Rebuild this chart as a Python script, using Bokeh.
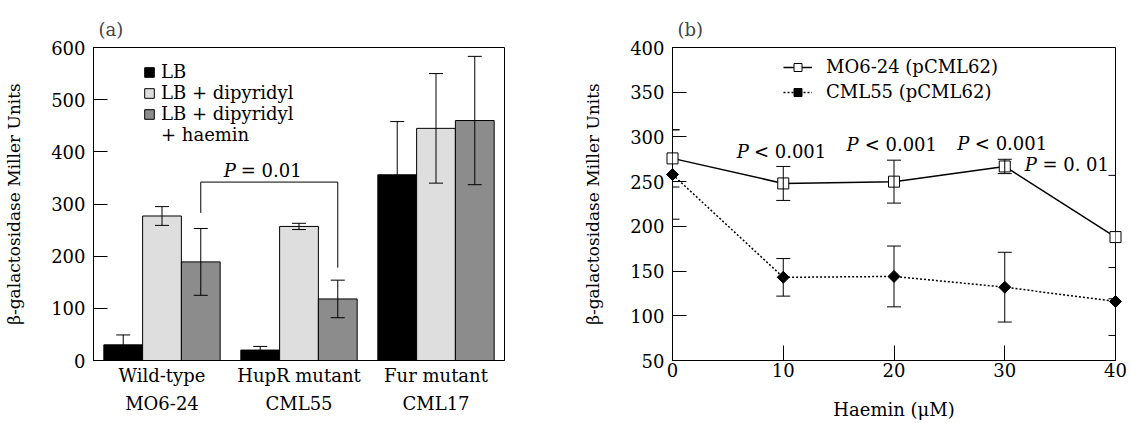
from bokeh.plotting import figure
from bokeh.models import (ColumnDataSource, FactorRange, Range1d, Whisker, TeeHead,
                          Legend, LegendItem, FixedTicker)
from bokeh.transform import dodge
from bokeh.layouts import row
from bokeh.embed import file_html
from bokeh.resources import INLINE
from bokeh.core.properties import value
import math

# ---------------- data ----------------
strain_names = ["Wild-type", "HupR mutant", "Fur mutant"]
strain_ids = ["MO6-24", "CML55", "CML17"]
groups = list(zip(strain_ids, strain_names))   # (lower line, upper line)
conditions = ["LB", "LB + dipyridyl", "LB + dipyridyl", "+ haemin"]
lb = [30, 20, 356]
lb_err = [19, 7, 102]
dip = [277, 257, 445]
dip_err = [18, 6, 105]
hae = [189, 118, 460]
hae_err = [64, 36, 123]

bracket_groups = [groups[0], groups[0], groups[1], groups[1]]
bracket_y = [283, 342, 342, 178]
bracket_text = ["P", "= 0.01"]

haemin = [0, 10, 20, 30, 40]
mo6 = [276, 248, 250, 267, 188]
mo6_err = [32, 19, 24, 8, 69]
cml55 = [258, 143, 144, 132, 116]
cml55_err = [50, 21, 34, 39, 38]
p_rest = ["< 0.001", "< 0.001", "< 0.001", "= 0. 01"]

# annotation placement (data units)
p_text_x_end = [6.9, 16.8, 26.8, 32.9]
p_text_x_rest = [7.35, 17.35, 27.3, 33.4]
p_text_y = [284, 291, 293, 269]

FONT = "DejaVu Serif"
FS = "18px"

# ---------------- panel (a) ----------------
w = 0.283
src = ColumnDataSource(dict(
    group=groups, lb=lb, dip=dip, hae=hae,
    lb_hi=[v + e for v, e in zip(lb, lb_err)], lb_lo=[v - e for v, e in zip(lb, lb_err)],
    dip_hi=[v + e for v, e in zip(dip, dip_err)], dip_lo=[v - e for v, e in zip(dip, dip_err)],
    hae_hi=[v + e for v, e in zip(hae, hae_err)], hae_lo=[v - e for v, e in zip(hae, hae_err)],
))

p1 = figure(x_range=FactorRange(*groups, group_padding=0, factor_padding=0, range_padding=0),
            y_range=Range1d(0, 600),
            width=540, height=423, output_backend="svg", toolbar_location=None,
            min_border_left=93, min_border_right=36, min_border_top=47, min_border_bottom=63)

r_lb = p1.vbar(x=dodge("group", -w, range=p1.x_range), top="lb", width=w, source=src,
               fill_color="black", line_color="black", line_width=1)
r_dip = p1.vbar(x=dodge("group", 0, range=p1.x_range), top="dip", width=w, source=src,
                fill_color="#dedede", line_color="black", line_width=1)
r_hae = p1.vbar(x=dodge("group", w, range=p1.x_range), top="hae", width=w, source=src,
                fill_color="#8c8c8c", line_color="black", line_width=1)
r_blank = p1.vbar(x=dodge("group", w, range=p1.x_range), top="hae", width=w, source=src,
                  fill_alpha=0, line_alpha=0)

for off, key in [(-w, "lb"), (0, "dip"), (w, "hae")]:
    wh = Whisker(base=dodge("group", off, range=p1.x_range), upper=key + "_hi", lower=key + "_lo",
                 source=src, line_color="black", line_width=1, level="annotation",
                 upper_head=TeeHead(size=14, line_color="black", line_width=1),
                 lower_head=TeeHead(size=14, line_color="black", line_width=1))
    p1.add_layout(wh)

bsrc = ColumnDataSource(dict(g=bracket_groups, y=bracket_y))
p1.line(x=dodge("g", w, range=p1.x_range), y="y", source=bsrc, line_color="black", line_width=1)

tsrc = ColumnDataSource(dict(g=[groups[1]], y=[364], t=[bracket_text[0]]))
p1.text(x=dodge("g", -0.46, range=p1.x_range), y="y", text="t", source=tsrc,
        text_font=value(FONT), text_font_size=FS, text_font_style="italic",
        text_align="right", text_baseline="middle", text_color="black")
tsrc2 = ColumnDataSource(dict(g=[groups[1]], y=[364], t=[bracket_text[1]]))
p1.text(x=dodge("g", -0.425, range=p1.x_range), y="y", text="t", source=tsrc2,
        text_font=value(FONT), text_font_size=FS,
        text_align="left", text_baseline="middle", text_color="black")

leg1 = Legend(items=[LegendItem(label=conditions[0], renderers=[r_lb]),
                     LegendItem(label=conditions[1], renderers=[r_dip]),
                     LegendItem(label=conditions[2], renderers=[r_hae]),
                     LegendItem(label=conditions[3], renderers=[r_blank])],
              location=(50, 215), orientation="vertical")
p1.add_layout(leg1)

# ---------------- panel (b) ----------------
bsrc2 = ColumnDataSource(dict(
    x=haemin, mo6=mo6, cml=cml55,
    mo6_hi=[v + e for v, e in zip(mo6, mo6_err)], mo6_lo=[v - e for v, e in zip(mo6, mo6_err)],
    cml_hi=[v + e for v, e in zip(cml55, cml55_err)], cml_lo=[v - e for v, e in zip(cml55, cml55_err)],
))

p2 = figure(x_range=Range1d(0, 40), y_range=Range1d(50, 400),
            width=591, height=423, output_backend="svg", toolbar_location=None,
            min_border_left=132, min_border_right=16, min_border_top=47, min_border_bottom=63)

for key in ["mo6", "cml"]:
    wh = Whisker(base="x", upper=key + "_hi", lower=key + "_lo", source=bsrc2,
                 line_color="black", line_width=1, level="overlay",
                 upper_head=TeeHead(size=14, line_color="black", line_width=1),
                 lower_head=TeeHead(size=14, line_color="black", line_width=1))
    p2.add_layout(wh)

l1 = p2.line(x="x", y="mo6", source=bsrc2, line_color="black", line_width=1.5)
l2 = p2.line(x="x", y="cml", source=bsrc2, line_color="black", line_width=1.5, line_dash="2 2")
s1 = p2.scatter(x="x", y="mo6", source=bsrc2, marker="square", size=11,
                fill_color="white", line_color="black", line_width=1, level="overlay")
s2 = p2.scatter(x="x", y="cml", source=bsrc2, marker="square", size=8.5, angle=math.pi / 4,
                fill_color="black", line_color="black", line_width=1, level="overlay")

ptsrc = ColumnDataSource(dict(x=p_text_x_end, y=p_text_y, t=["P"] * 4))
p2.text(x="x", y="y", text="t", source=ptsrc, text_font=value(FONT), text_font_size=FS,
        text_font_style="italic", text_align="right", text_baseline="middle", text_color="black")
ptsrc2 = ColumnDataSource(dict(x=p_text_x_rest, y=p_text_y, t=p_rest))
p2.text(x="x", y="y", text="t", source=ptsrc2, text_font=value(FONT), text_font_size=FS,
        text_align="left", text_baseline="middle", text_color="black")

leg2 = Legend(items=[LegendItem(label="MO6-24 (pCML62)", renderers=[l1, s1]),
                     LegendItem(label="CML55 (pCML62)", renderers=[l2, s2])],
              location=(111, 258), orientation="vertical")
p2.add_layout(leg2)

# ---------------- styling ----------------
for p, lab in [(p1, "(a)"), (p2, "(b)")]:
    p.xgrid.visible = False
    p.ygrid.visible = False
    p.outline_line_color = "black"
    p.outline_line_alpha = 1
    p.outline_line_width = 1
    p.background_fill_color = "white"
    p.border_fill_color = "white"
    p.title.text = lab
    p.title.text_font = FONT
    p.title.text_font_size = FS
    p.title.text_font_style = "normal"
    p.title.align = "left"
    p.title.offset = 5
    p.title.standoff = 16
    for ax in [p.xaxis[0], p.yaxis[0]]:
        ax.axis_line_color = "black"
        ax.major_tick_line_color = "black"
        ax.minor_tick_line_color = None
        ax.major_tick_out = 0
        ax.major_label_text_font = FONT
        ax.major_label_text_font_size = FS
        ax.major_label_text_color = "black"
        ax.axis_label_text_font = FONT
        ax.axis_label_text_font_size = FS
        ax.axis_label_text_font_style = "normal"
        ax.axis_label_text_color = "black"
    p.yaxis[0].axis_label = "β-galactosidase Miller Units"
    p.yaxis[0].axis_label_text_font_size = "17px"
    p.yaxis[0].major_tick_in = 14
    p.yaxis[0].major_label_standoff = 8
    p.yaxis[0].axis_label_standoff = 24
    leg = p.legend[0]
    leg.border_line_color = None
    leg.background_fill_alpha = 0
    leg.label_text_font = FONT
    leg.label_text_font_size = FS
    leg.label_text_color = "black"
    leg.margin = 0
    leg.padding = 0

p1.yaxis[0].ticker = FixedTicker(ticks=[0, 100, 200, 300, 400, 500, 600])
xa = p1.xaxis[0]
xa.major_tick_in = 0
xa.major_tick_line_color = None
xa.major_label_standoff = 4
xa.group_text_font = FONT
xa.group_text_font_size = FS
xa.group_text_font_style = "normal"
xa.group_text_color = "black"
xa.separator_line_color = None
leg1.glyph_width = 12
leg1.glyph_height = 12
leg1.label_height = 20
leg1.spacing = 0
leg1.label_standoff = 6

p2.yaxis[0].ticker = FixedTicker(ticks=[50, 100, 150, 200, 250, 300, 350, 400])
p2.xaxis[0].ticker = FixedTicker(ticks=haemin)
p2.xaxis[0].major_tick_in = 15
p2.xaxis[0].major_label_standoff = 2
p2.xaxis[0].axis_label = "Haemin (μM)"
p2.xaxis[0].axis_label_standoff = 19
leg2.glyph_width = 29
leg2.glyph_height = 20
leg2.label_height = 20
leg2.spacing = 4
leg2.label_standoff = 14

layout = row(p1, p2)
open("out.html", "w").write(file_html(layout, INLINE))
